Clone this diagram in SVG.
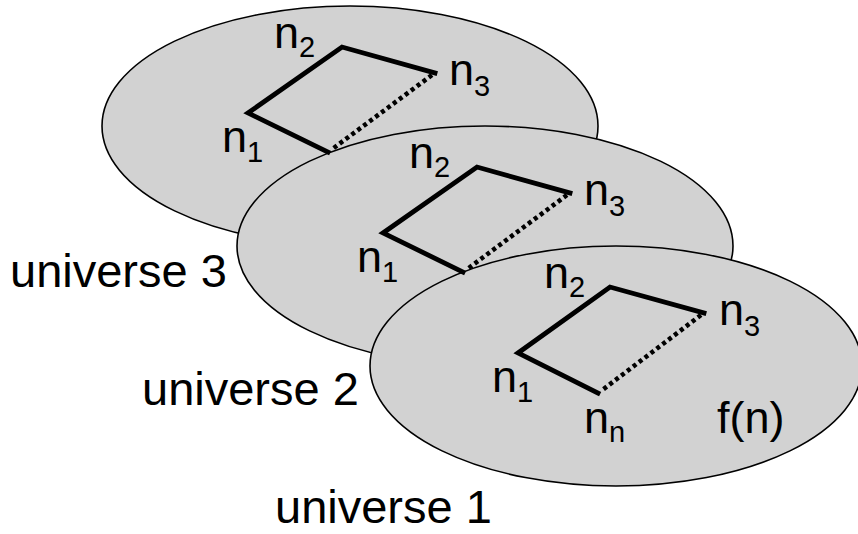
<svg xmlns="http://www.w3.org/2000/svg" width="858" height="534" viewBox="0 0 858 534">
<style>
.u{fill:#d2d2d2;stroke:#000;stroke-width:1.6}
.t{font-family:"Liberation Sans",Arial,sans-serif;fill:#000}
.lbl{font-size:45px}
.big{font-size:47px}
.sub{font-size:29px}
.e{fill:none;stroke:#000;stroke-width:4.8;stroke-linejoin:miter;stroke-linecap:square}
.d{fill:none;stroke:#000;stroke-width:4.6;stroke-dasharray:4 3.4}
</style>
<rect width="858" height="534" fill="#fff"/>
<g id="universe3">
<ellipse class="u" cx="350" cy="126" rx="248" ry="120"/>
<text class="t lbl" x="274" y="48">n<tspan class="sub" dy="9">2</tspan></text>
<text class="t lbl" x="449" y="85">n<tspan class="sub" dy="11">3</tspan></text>
<text class="t lbl" x="222" y="152">n<tspan class="sub" dy="10">1</tspan></text>
<text class="t big" x="10" y="287">universe 3</text>
</g>
<g id="universe2">
<ellipse class="u" cx="485" cy="246" rx="248" ry="120"/>
<text class="t lbl" x="409" y="168">n<tspan class="sub" dy="9">2</tspan></text>
<text class="t lbl" x="584" y="205">n<tspan class="sub" dy="11">3</tspan></text>
<text class="t lbl" x="357" y="272">n<tspan class="sub" dy="10">1</tspan></text>
<text class="t big" x="142" y="405">universe 2</text>
</g>
<g id="universe1">
<ellipse class="u" cx="616" cy="366" rx="246" ry="120"/>
<text class="t lbl" x="544" y="288">n<tspan class="sub" dy="9">2</tspan></text>
<text class="t lbl" x="719" y="325">n<tspan class="sub" dy="11">3</tspan></text>
<text class="t lbl" x="492" y="392">n<tspan class="sub" dy="10">1</tspan></text>
<text class="t lbl" x="584" y="433">n<tspan class="sub" dy="9">n</tspan></text>
<text class="t lbl" x="717" y="433">f(n)</text>
<text class="t big" x="275" y="523">universe 1</text>
</g>
<g id="connectors">
<polyline class="e" points="328,152 248,113 342,47 435,73"/>
<line class="d" x1="432" y1="75" x2="331" y2="150"/>
<polyline class="e" points="463,272 383,233 477,167 570,193"/>
<line class="d" x1="567" y1="195" x2="466" y2="270"/>
<polyline class="e" points="598,393 518,353 610,287 704,313"/>
<line class="d" x1="701" y1="315" x2="601" y2="391"/>
</g>
</svg>
